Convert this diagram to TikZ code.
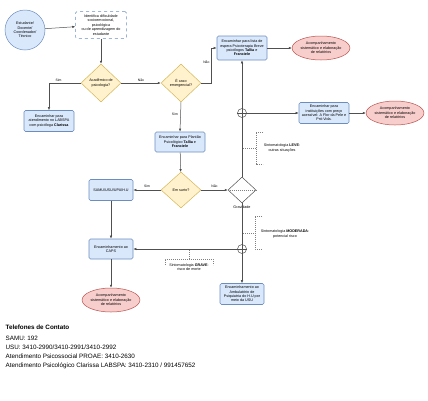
\documentclass[tikz,border=0pt]{standalone}
\usepackage{fontspec}
\setmainfont{Liberation Sans}
\usetikzlibrary{shapes.geometric,arrows.meta}
\definecolor{azulF}{HTML}{DAE8FC}
\definecolor{azulB}{HTML}{6C8EBF}
\definecolor{amarF}{HTML}{FFF2CC}
\definecolor{amarB}{HTML}{D6B656}
\definecolor{vermF}{HTML}{F8CECC}
\definecolor{vermB}{HTML}{B85450}
\definecolor{linha}{HTML}{505050}

\begin{document}
\begin{tikzpicture}[x=1pt,y=-1pt,
		every node/.style={font=\fontsize{3.7}{4.4}\selectfont, align=center, inner sep=0.5pt},
		caixa/.style={rectangle, rounded corners=1.5pt, draw=azulB, fill=azulF, line width=0.6pt, minimum width=50pt, minimum height=21pt},
		decisao/.style={diamond, draw=amarB, fill=amarF, line width=0.5pt, inner sep=0pt, minimum width=40pt, minimum height=38pt},
		fim/.style={ellipse, draw=vermB, fill=vermF, line width=0.5pt, minimum width=50pt, minimum height=24pt, inner sep=0pt},
		juncao/.style={circle, draw=linha, fill=white, line width=0.5pt, minimum size=9pt, inner sep=0pt},
		seta/.style={draw=linha, line width=0.5pt, -{Latex[length=3pt,width=2.4pt]}},
		linhasimples/.style={draw=linha, line width=0.5pt},
		anot/.style={draw=gray, dashed, dash pattern=on 1.2pt off 0.8pt, line width=0.4pt},
		rotulo/.style={font=\fontsize{3.4}{4}\selectfont, fill=none}]
	\useasboundingbox (0,0) rectangle (428,400);

	\node[circle, draw=azulB, fill=azulF, line width=0.5pt, minimum size=40pt] (1) at (25,30) {Estudante/\\Docente/\\Coordenador/\\Técnico};
	\node[rectangle, rounded corners=1.5pt, draw=azulB, dashed, fill=white, line width=0.5pt, minimum width=51pt, minimum height=27pt] (2) at (101,25) {Identifica dificuldade\\socioemocional,\\psicológica\\ou de aprendizagem do\\estudante};
	\node[decisao] (3) at (101,83) {Acadêmico de\\psicologia?};
	\node[decisao] (5) at (181,83) {É caso\\emergencial?};
	\node[caixa] (4) at (49,121) {Encaminhar para\\atendimento no LABSPA\\com psicóloga \textbf{Clarissa}};
	\node[caixa, minimum height=24pt] (6) at (242,48) {Encaminhar para lista de\\espera Psicoterapia Breve\\psicólogos \textbf{Tallia} e\\\textbf{Franciele}};
	\node[fim] (7) at (321,48) {Acompanhamento\\sistemático e elaboração\\de relatórios};
	\node[caixa] (12) at (324,113) {Encaminhar para\\instituições com preço\\acessível: A Flor da Pele e\\Pró-Vida.};
	\node[fim] (13) at (395,113) {Acompanhamento\\sistemático e elaboração\\de relatórios};
	\node[caixa, minimum height=20pt] (8) at (180,142) {Encaminhar para Plantão\\Psicológico \textbf{Tallia} e\\\textbf{Franciele}};
	\node[decisao, minimum height=36pt] (9) at (181,190) {Em surto?};
	\node[caixa, minimum width=44pt] (10) at (111,190) {SAMU/USU/UPA/H.U};
	\node[diamond, draw=linha, fill=white, line width=0.5pt, inner sep=0pt, minimum width=28pt, minimum height=26pt] (11) at (242,190) {};
	\node (11a) at (242,207) {Gravidade};
	\node[juncao] (j1) at (242,113) {};
	\node[juncao] (j2) at (242,249) {};
	\node[caixa, minimum width=44pt, minimum height=20pt] (14) at (111,249) {Encaminhamento ao\\CAPS};
	\node[caixa, minimum width=44pt] (15) at (242,294) {Encaminhamento ao\\Ambulatório de\\Psiquiatria do H.U por\\meio da USU};
	\node[fim] (16) at (111,300) {Acompanhamento\\sistemático e elaboração\\de relatórios};

	% cruzes das juncoes e linha da decisao
	\draw[linhasimples] (j1.north) -- (j1.south) (j1.west) -- (j1.east);
	\draw[linhasimples] (j2.north) -- (j2.south) (j2.west) -- (j2.east);
	\draw[anot] (11.west) -- (11.east);

	\path[seta]
		(1) edge (2)
		(2) edge (3)
		(6) edge (7)
		(12) edge (13)
		(8) edge (9)
		(10) edge (14)
		(14) edge (16)
		(j1) edge (6)
		(j1) edge (12)
		(j2) edge (14)
		(j2) edge (15)
	;
	\path[linhasimples]
		(11) edge (j1)
		(11) edge (j2)
	;

	\draw[seta] (3.west) -| node[rotulo, pos=0.35, above=0.5pt] {Sim} (4.north);
	\draw[seta] (3.east) -- node[rotulo, above=1pt] {Não} (5.west);
	\draw[seta] (5.east) -- ++(10,0) |- node[rotulo, pos=0.3, left=1pt] {Não} (6.west);
	\draw[seta] (5.south) -- node[rotulo, pos=0.4, left=2pt] {Sim} (8.north);
	\draw[seta] (9.west) -- node[rotulo, above=1.5pt] {Sim} (10.east);
	\draw[seta] (9.east) -- node[rotulo, above=1.5pt] {Não} (11.west);

	% anotacoes de gravidade
	\node (la) at (282,148) {Sintomatologia \textbf{LEVE}:\\outras situações};
	\draw[anot] (263,132) -- (256,132) -- (256,164) -- (263,164);
	\draw[anot] (243,148) -- (256,148);
	\node (ma) at (285,234) {Sintomatologia \textbf{MODERADA}:\\potencial risco};
	\draw[anot] (262,216) -- (255,216) -- (255,249) -- (262,249);
	\draw[anot] (243,233) -- (255,233);
	\node (ga) at (189,267) {Sintomatologia \textbf{GRAVE}:\\risco de morte};
	\draw[anot] (165,265) -- (165,259) -- (213,259) -- (213,265);
	\draw[anot] (189,250) -- (189,259);

	% telefones
	\node[anchor=west, font=\fontsize{6.3}{7}\selectfont\bfseries] (tel) at (5,327) {Telefones de Contato};
	\node[anchor=north west, align=left, font=\fontsize{6.3}{9}\selectfont] (lista) at (5,335) {SAMU: 192\\USU: 3410-2990/3410-2991/3410-2992\\Atendimento Psicossocial PROAE: 3410-2630\\Atendimento Psicológico Clarissa LABSPA: 3410-2310 / 991457652};
\end{tikzpicture}
\end{document}
